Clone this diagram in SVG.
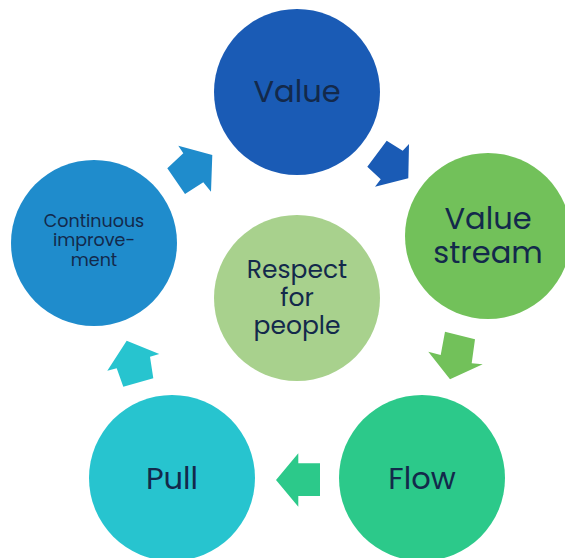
<svg xmlns="http://www.w3.org/2000/svg" width="565" height="558" viewBox="0 0 565 558">
<style>
text{font-family:"Poppins","Open Sans","Noto Sans",sans-serif;fill:#13294b;text-anchor:middle}
.big{font-size:30.5px}
.mid{font-size:25px}
.sm{font-size:17.5px}
</style>
<rect width="565" height="558" fill="#ffffff"/>
<g id="connectors">
<polygon fill="#1f8ccc" points="178.3,145.7 183.3,153.3 167.3,168.3 185,194 203.3,182.3 211,191.7 212.3,155"/>
<polygon fill="#1a5bb5" points="386.7,140.7 402.7,150.7 409,144 408.3,178.3 375,186.7 380.7,179.3 367.3,166.7"/>
<polygon fill="#72c15a" points="445,331.7 475,339.3 471.7,363.3 482.7,364.3 450,379.3 428.3,351.7 440.7,355"/>
<polygon fill="#2cc98a" points="298.3,453.3 298.3,463.3 320,463.3 320,496 298.3,496 298.3,506.7 276,480"/>
<polygon fill="#27c4cf" points="126.7,340.7 159.3,354 150,356.7 153.3,378.3 123.3,386.7 116.7,368.3 107.3,370.7"/>
</g>
<g id="value">
<circle cx="297" cy="92" r="83" fill="#1a5bb5"/>
<text class="big" x="297" y="102">Value</text>
</g>
<g id="value-stream">
<circle cx="488" cy="236" r="83" fill="#72c15a"/>
<text class="big" x="488" y="229">Value</text>
<text class="big" x="488" y="263">stream</text>
</g>
<g id="flow">
<circle cx="422" cy="478" r="83" fill="#2cc98a"/>
<text class="big" x="422" y="489">Flow</text>
</g>
<g id="pull">
<circle cx="172" cy="478" r="83" fill="#27c4cf"/>
<text class="big" x="172" y="489">Pull</text>
</g>
<g id="continuous-improvement">
<circle cx="94" cy="243" r="83" fill="#1f8ccc"/>
<text class="sm" x="94" y="227">Continuous</text>
<text class="sm" x="94" y="246">improve-</text>
<text class="sm" x="94" y="266">ment</text>
</g>
<g id="respect-for-people">
<circle cx="297" cy="298" r="83" fill="#a8d18d"/>
<text class="mid" x="297" y="278">Respect</text>
<text class="mid" x="297" y="306">for</text>
<text class="mid" x="297" y="334">people</text>
</g>
</svg>
